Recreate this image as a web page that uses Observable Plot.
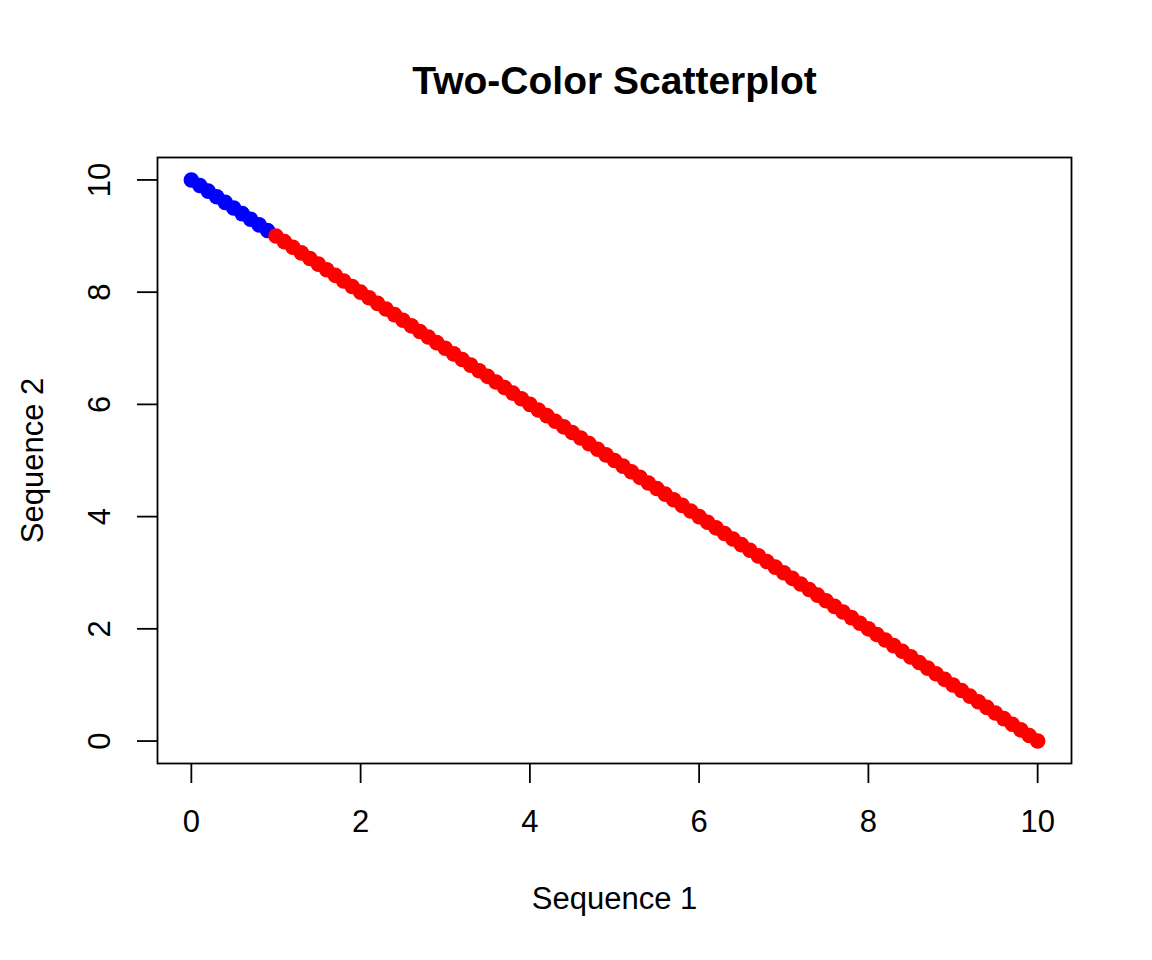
<!DOCTYPE html>
<html>
<head>
<meta charset="utf-8">
<script src="https://cdn.jsdelivr.net/npm/d3@7"></script>
<script src="https://cdn.jsdelivr.net/npm/@observablehq/plot@0.6"></script>
<style>
  html, body { margin: 0; padding: 0; background: white; }
</style>
</head>
<body>
<div id="chart"></div>
<script>
const title = "Two-Color Scatterplot";
const xLabel = "Sequence 1";
const yLabel = "Sequence 2";

const sequence1 = [
  0, 0.1, 0.2, 0.3, 0.4, 0.5, 0.6, 0.7, 0.8, 0.9,
  1, 1.1, 1.2, 1.3, 1.4, 1.5, 1.6, 1.7, 1.8, 1.9,
  2, 2.1, 2.2, 2.3, 2.4, 2.5, 2.6, 2.7, 2.8, 2.9,
  3, 3.1, 3.2, 3.3, 3.4, 3.5, 3.6, 3.7, 3.8, 3.9,
  4, 4.1, 4.2, 4.3, 4.4, 4.5, 4.6, 4.7, 4.8, 4.9,
  5, 5.1, 5.2, 5.3, 5.4, 5.5, 5.6, 5.7, 5.8, 5.9,
  6, 6.1, 6.2, 6.3, 6.4, 6.5, 6.6, 6.7, 6.8, 6.9,
  7, 7.1, 7.2, 7.3, 7.4, 7.5, 7.6, 7.7, 7.8, 7.9,
  8, 8.1, 8.2, 8.3, 8.4, 8.5, 8.6, 8.7, 8.8, 8.9,
  9, 9.1, 9.2, 9.3, 9.4, 9.5, 9.6, 9.7, 9.8, 9.9,
  10
];
const sequence2 = [
  10, 9.9, 9.8, 9.7, 9.6, 9.5, 9.4, 9.3, 9.2, 9.1,
  9, 8.9, 8.8, 8.7, 8.6, 8.5, 8.4, 8.3, 8.2, 8.1,
  8, 7.9, 7.8, 7.7, 7.6, 7.5, 7.4, 7.3, 7.2, 7.1,
  7, 6.9, 6.8, 6.7, 6.6, 6.5, 6.4, 6.3, 6.2, 6.1,
  6, 5.9, 5.8, 5.7, 5.6, 5.5, 5.4, 5.3, 5.2, 5.1,
  5, 4.9, 4.8, 4.7, 4.6, 4.5, 4.4, 4.3, 4.2, 4.1,
  4, 3.9, 3.8, 3.7, 3.6, 3.5, 3.4, 3.3, 3.2, 3.1,
  3, 2.9, 2.8, 2.7, 2.6, 2.5, 2.4, 2.3, 2.2, 2.1,
  2, 1.9, 1.8, 1.7, 1.6, 1.5, 1.4, 1.3, 1.2, 1.1,
  1, 0.9, 0.8, 0.7, 0.6, 0.5, 0.4, 0.3, 0.2, 0.1,
  0
];
const pointGroup = [
  "blue","blue","blue","blue","blue","blue","blue","blue","blue","blue",
  "red","red","red","red","red","red","red","red","red","red",
  "red","red","red","red","red","red","red","red","red","red",
  "red","red","red","red","red","red","red","red","red","red",
  "red","red","red","red","red","red","red","red","red","red",
  "red","red","red","red","red","red","red","red","red","red",
  "red","red","red","red","red","red","red","red","red","red",
  "red","red","red","red","red","red","red","red","red","red",
  "red","red","red","red","red","red","red","red","red","red",
  "red","red","red","red","red","red","red","red","red","red",
  "red"
];
const xTicks = [0, 2, 4, 6, 8, 10];
const yTicks = [0, 2, 4, 6, 8, 10];

const points = sequence1.map((x, i) => ({x, y: sequence2[i], g: pointGroup[i]}));

const font = "'Liberation Sans', Arial, Helvetica, sans-serif";
const baseSize = 31;

const chart = Plot.plot({
  width: 1152,
  height: 960,
  marginLeft: 157,
  marginRight: 81,
  marginTop: 157,
  marginBottom: 197,
  style: {fontFamily: font, background: "white", color: "black", overflow: "visible"},
  x: {domain: [-0.4, 10.4], axis: null},
  y: {domain: [-0.4, 10.4], axis: null},
  color: {domain: ["blue", "red"], range: ["#0000FF", "#FF0000"]},
  marks: [
    Plot.axisX({ticks: xTicks, tickSize: 20, tickFormat: () => "", label: null, strokeWidth: 1.8, stroke: "black"}),
    Plot.axisY({ticks: yTicks, tickSize: 20, tickFormat: () => "", label: null, strokeWidth: 1.8, stroke: "black"}),
    Plot.text(xTicks, {x: d => d, frameAnchor: "bottom", lineAnchor: "middle", textAnchor: "middle", dy: 59, text: d => String(d), fontSize: baseSize, fill: "black"}),
    Plot.text(yTicks, {y: d => d, frameAnchor: "left", lineAnchor: "middle", textAnchor: "middle", dx: -57, rotate: -90, text: d => String(d), fontSize: baseSize, fill: "black"}),
    Plot.dot(points, {x: "x", y: "y", fill: "g", r: 7.8, stroke: null}),
    Plot.frame({stroke: "black", strokeWidth: 1.8}),
    Plot.text([xLabel], {frameAnchor: "bottom", lineAnchor: "middle", textAnchor: "middle", dy: 136, text: d => d, fontSize: baseSize, fill: "black"}),
    Plot.text([yLabel], {frameAnchor: "left", lineAnchor: "middle", textAnchor: "middle", dx: -124, rotate: -90, text: d => d, fontSize: baseSize, fill: "black"}),
    Plot.text([title], {frameAnchor: "top", lineAnchor: "middle", textAnchor: "middle", dy: -76, text: d => d, fontSize: 39, fontWeight: "bold", fill: "black"})
  ]
});
document.getElementById("chart").appendChild(chart);
</script>
</body>
</html>
